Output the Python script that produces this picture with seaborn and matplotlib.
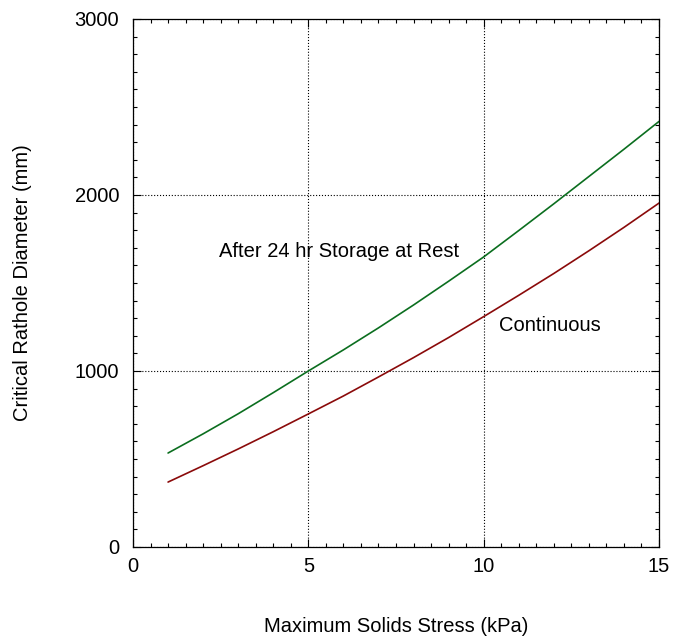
import pandas as pd
import seaborn as sns
import matplotlib.pyplot as plt
from matplotlib.ticker import MultipleLocator

# values
stress_kpa = [1, 2, 3, 4, 5, 6, 7, 8, 9, 10, 11, 12, 13, 14, 15]
at_rest_mm = [534, 643, 757, 877, 1000, 1120, 1245, 1375, 1510, 1648, 1798, 1950, 2105, 2260, 2418]
continuous_mm = [369, 462, 557, 655, 756, 858, 966, 1076, 1190, 1309, 1430, 1554, 1683, 1816, 1954]

sns.set_style("ticks")
plt.rcParams['font.family'] = ['Liberation Sans', 'DejaVu Sans']

df = pd.DataFrame({
    'stress': stress_kpa * 2,
    'diameter': at_rest_mm + continuous_mm,
    'case': ['rest'] * len(stress_kpa) + ['cont'] * len(stress_kpa),
})

fig = plt.figure(figsize=(6.73, 6.37), dpi=100)
ax = fig.add_axes([133 / 673, 90 / 637, 526 / 673, 528 / 637])

sns.lineplot(data=df, x='stress', y='diameter', hue='case',
             palette={'rest': '#0b6e1f', 'cont': '#8a0a0a'},
             linewidth=1.2, legend=False, ax=ax)

ax.set_xlim(0, 15)
ax.set_ylim(0, 3000)
ax.xaxis.set_major_locator(MultipleLocator(5))
ax.xaxis.set_minor_locator(MultipleLocator(0.5))
ax.yaxis.set_major_locator(MultipleLocator(1000))
ax.yaxis.set_minor_locator(MultipleLocator(100))
ax.tick_params(which='both', direction='in', top=True, right=True,
               labelsize=14.5, color='black', width=0.8, labelcolor='black')
ax.tick_params(which='major', length=6)
ax.tick_params(axis='x', which='major', pad=7)
ax.tick_params(axis='y', which='major', pad=10)
ax.tick_params(which='minor', length=3)
for s in ax.spines.values():
    s.set_color('black')
    s.set_linewidth(0.9)

ax.grid(which='major', color='black', linestyle=':', linewidth=0.8)

ax.set_xlabel('Maximum Solids Stress (kPa)', fontsize=14.5, color='black')
ax.set_ylabel('Critical Rathole Diameter (mm)', fontsize=14.5, color='black')
ax.xaxis.set_label_coords(0.5, -0.1515)
ax.yaxis.set_label_coords(-0.211, 0.5)
ax.xaxis.label.set_va('center')
ax.yaxis.label.set_va('center')

ax.text(2.45, 1681, 'After 24 hr Storage at Rest', fontsize=14.5, va='center', color='black')
ax.text(10.44, 1259, 'Continuous', fontsize=14.5, va='center', color='black')

fig.savefig('out.png', dpi=100)
